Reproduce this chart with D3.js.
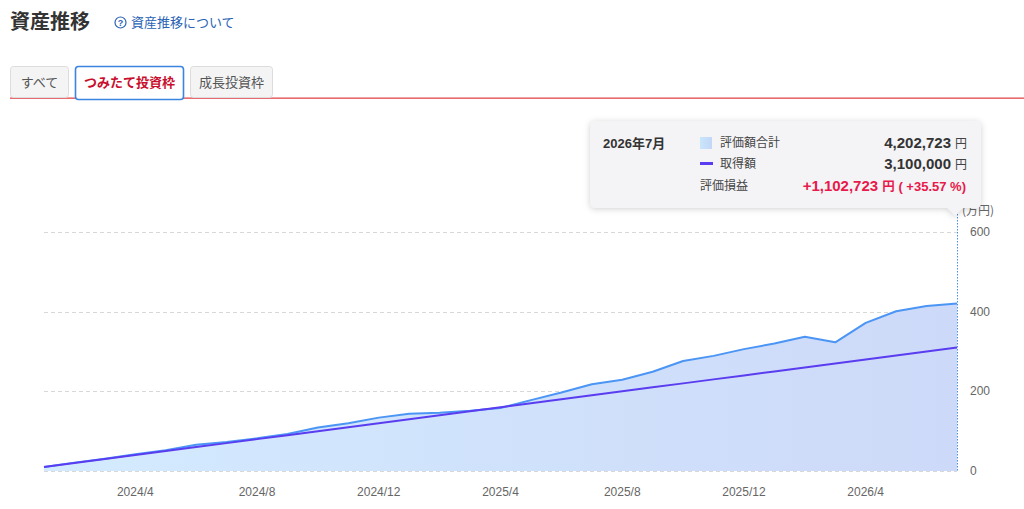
<!DOCTYPE html>
<html>
<head>
<meta charset="utf-8">
<script src="https://cdn.jsdelivr.net/npm/d3@7"></script>
<style>
  body { margin: 0; background: #fff; font-family: "Liberation Sans", "Noto Sans CJK JP", sans-serif; }
  svg { display: block; }
</style>
</head>
<body>
<div id="chart"></div>
<script>
// months from 2024/1 to 2026/7
const months = ["2024/1","2024/2","2024/3","2024/4","2024/5","2024/6","2024/7","2024/8","2024/9","2024/10","2024/11","2024/12",
  "2025/1","2025/2","2025/3","2025/4","2025/5","2025/6","2025/7","2025/8","2025/9","2025/10","2025/11","2025/12",
  "2026/1","2026/2","2026/3","2026/4","2026/5","2026/6","2026/7"];
// 評価額合計 (万円)
const valuation = [10, 21, 31, 42, 52, 66, 73, 82, 93, 109, 120, 134, 144, 146, 151, 158,
  178, 197, 218, 229, 249, 276, 289, 306, 320, 337, 323, 372, 401, 414, 420.27];
// 取得額 (万円)
const acquired = [10, 20, 30, 40, 50, 60, 70, 80, 90, 100, 110, 120, 130, 140, 150, 160,
  170, 180, 190, 200, 210, 220, 230, 240, 250, 260, 270, 280, 290, 300, 310];
// tooltip values for the last month (円)
const tipMonth = "2026年7月";
const tipValuation = 4202723;
const tipAcquired = 3100000;
const yTicks = [0, 200, 400, 600];
const xTickLabels = ["2024/4", "2024/8", "2024/12", "2025/4", "2025/8", "2025/12", "2026/4"];
const tabs = ["すべて", "つみたて投資枠", "成長投資枠"];

const W = 1024, H = 509;
const jp = '"Noto Sans CJK JP", sans-serif';
const num = '"Liberation Sans", "Noto Sans CJK JP", sans-serif';

let svg = d3.select("#chart").append("svg").attr("width", W).attr("height", H);

// header
svg.append("text").attr("x", 10).attr("y", 29).text("資産推移")
  .style("font-family", jp).style("font-size", "20px").style("font-weight", "bold").attr("fill", "#333");
svg.append("circle").attr("cx", 120.5).attr("cy", 22.5).attr("r", 5.5)
  .attr("fill", "none").attr("stroke", "#2a63b5").attr("stroke-width", 1.2);
svg.append("text").attr("x", 120.5).attr("y", 26).attr("text-anchor", "middle").text("?")
  .style("font-family", num).style("font-size", "9px").style("font-weight", "bold").attr("fill", "#2a63b5");
svg.append("text").attr("x", 131).attr("y", 27).text("資産推移について")
  .style("font-family", jp).style("font-size", "13px").attr("fill", "#2a63b5");

// red line under the tabs
svg.append("rect").attr("x", 10).attr("y", 97.5).attr("width", W - 10).attr("height", 1.3).attr("fill", "#e2474c");

// tabs
const tabX = [10, 75, 190], tabW = [58, 108, 82];
let tabG = svg.append("g");
tabs.forEach(function(t, i) {
  let active = i === 1;
  tabG.append("rect").attr("x", tabX[i] + 0.5).attr("y", 66.5).attr("width", tabW[i]).attr("height", active ? 33 : 31)
    .attr("rx", 3).attr("fill", active ? "#fff" : "#f4f4f5")
    .attr("stroke", active ? "#3a85e0" : "#dcdcdc").attr("stroke-width", active ? 1.6 : 1);
  tabG.append("text").attr("x", tabX[i] + tabW[i] / 2 + 0.5).attr("y", 87).attr("text-anchor", "middle").text(t)
    .style("font-family", jp).style("font-size", "13px").style("font-weight", active ? "bold" : "normal")
    .attr("fill", active ? "#c8102e" : "#555");
});

// chart area
let margin = {left: 44, right: 67, top: 232, bottom: 38};
let x = d3.scalePoint().domain(months).range([margin.left, W - margin.right]);
let y = d3.scaleLinear().domain([0, 600]).range([H - margin.bottom, margin.top]);

// gradient for area
let defs = svg.append("defs");
let grad = defs.append("linearGradient").attr("id", "areaGrad").attr("x1", 0).attr("x2", 1).attr("y1", 0).attr("y2", 0);
grad.append("stop").attr("offset", "0%").attr("stop-color", "#d3ebff");
grad.append("stop").attr("offset", "100%").attr("stop-color", "#cdd9f8");
let lg = defs.append("linearGradient").attr("id", "legGrad").attr("x1", 0).attr("x2", 1);
lg.append("stop").attr("offset", "0%").attr("stop-color", "#c9e6fb");
lg.append("stop").attr("offset", "100%").attr("stop-color", "#c3d6f6");

// grid
svg.append("g").selectAll("line").data(yTicks).enter().append("line")
  .attr("x1", margin.left).attr("x2", W - margin.right)
  .attr("y1", function(d) { return Math.round(y(d)) + 0.5; })
  .attr("y2", function(d) { return Math.round(y(d)) + 0.5; })
  .attr("stroke", "#d8d8d8").attr("stroke-dasharray", "4,3");

// area
let area = d3.area().x(function(d, i) { return x(months[i]); }).y0(y(0)).y1(function(d) { return y(d); });
svg.append("path").datum(valuation).attr("d", area).attr("fill", "url(#areaGrad)");

// lines
let line = d3.line().x(function(d, i) { return x(months[i]); }).y(function(d) { return y(d); });
svg.append("path").datum(valuation).attr("d", line).attr("fill", "none")
  .attr("stroke", "#4b95f5").attr("stroke-width", 2).attr("stroke-linejoin", "round");
svg.append("path").datum(acquired).attr("d", line).attr("fill", "none")
  .attr("stroke", "#5a3df0").attr("stroke-width", 2);

// hover marker line at last month
let lastX = Math.round(x(months[months.length - 1])) + 0.5;
svg.append("line").attr("x1", lastX).attr("x2", lastX).attr("y1", 214).attr("y2", y(0))
  .attr("stroke", "#4a8de8").attr("stroke-width", 1).attr("stroke-dasharray", "1.5,1.5");

// y axis labels
svg.append("g").selectAll("text").data(yTicks).enter().append("text")
  .attr("x", 970).attr("y", function(d) { return y(d) + 4; }).text(function(d) { return d; })
  .style("font-family", num).style("font-size", "12px").attr("fill", "#666");
svg.append("text").attr("x", 962).attr("y", 215).text("(万円)")
  .style("font-family", jp).style("font-size", "12px").attr("fill", "#666");

// x axis labels
svg.append("g").selectAll("text").data(xTickLabels).enter().append("text")
  .attr("x", function(d) { return x(d); }).attr("y", 496).attr("text-anchor", "middle").text(function(d) { return d; })
  .style("font-family", num).style("font-size", "12px").attr("fill", "#666");

// tooltip
let tip = svg.append("g");
tip.append("path")
  .attr("d", "M595,121 H976 Q981,121 981,126 V203 Q981,208 976,208 H963 L955,216 L947,208 H595 Q590,208 590,203 V126 Q590,121 595,121 Z")
  .attr("fill", "#f4f4f6").style("filter", "drop-shadow(0px 1px 3px rgba(0,0,0,0.18))");
tip.append("text").attr("x", 603).attr("y", 148).text(tipMonth)
  .style("font-family", num).style("font-size", "13px").style("font-weight", "bold").attr("fill", "#333");
tip.append("rect").attr("x", 700).attr("y", 137).attr("width", 12).attr("height", 12).attr("fill", "url(#legGrad)");
tip.append("rect").attr("x", 700).attr("y", 162).attr("width", 13).attr("height", 3).attr("fill", "#5a3df0");
let labels = [["評価額合計", 147], ["取得額", 168], ["評価損益", 190]];
labels.forEach(function(l, i) {
  tip.append("text").attr("x", i < 2 ? 720 : 700).attr("y", l[1]).text(l[0])
    .style("font-family", jp).style("font-size", "12px").attr("fill", "#444");
});
let fmt = d3.format(",");
let gain = tipValuation - tipAcquired;
tip.append("text").attr("x", 951).attr("y", 148).attr("text-anchor", "end").text(fmt(tipValuation))
  .style("font-family", num).style("font-size", "15px").style("font-weight", "bold").attr("fill", "#333");
tip.append("text").attr("x", 955).attr("y", 148).text("円")
  .style("font-family", jp).style("font-size", "12px").attr("fill", "#444");
tip.append("text").attr("x", 951).attr("y", 169).attr("text-anchor", "end").text(fmt(tipAcquired))
  .style("font-family", num).style("font-size", "15px").style("font-weight", "bold").attr("fill", "#333");
tip.append("text").attr("x", 955).attr("y", 169).text("円")
  .style("font-family", jp).style("font-size", "12px").attr("fill", "#444");
let gainText = tip.append("text").attr("x", 966).attr("y", 191).attr("text-anchor", "end").attr("fill", "#e8194b");
gainText.append("tspan").text("+" + fmt(gain) + " ")
  .style("font-family", num).style("font-size", "15px").style("font-weight", "bold");
gainText.append("tspan").text("円")
  .style("font-family", jp).style("font-size", "12.5px").style("font-weight", "bold");
gainText.append("tspan").text(" ( +" + (gain / tipAcquired * 100).toFixed(2) + " %)")
  .style("font-family", num).style("font-size", "13px").style("font-weight", "bold");
</script>
</body>
</html>
